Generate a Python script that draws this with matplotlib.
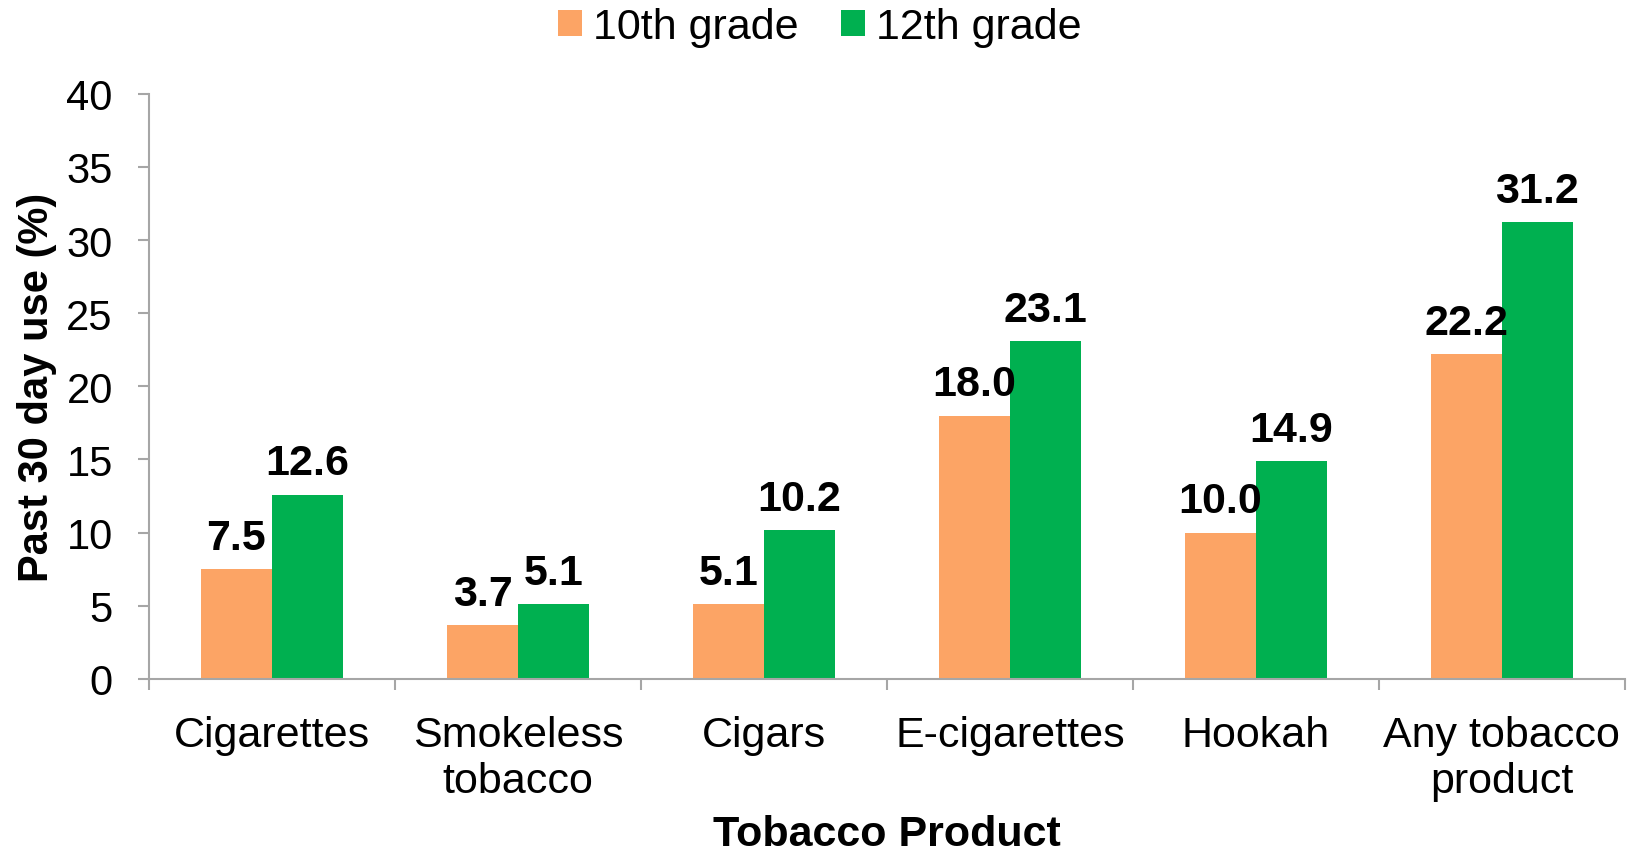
import numpy as np
import matplotlib.pyplot as plt

plt.rcParams['font.family'] = ['Liberation Sans', 'DejaVu Sans']

products = ["Cigarettes", "Smokeless\ntobacco", "Cigars", "E-cigarettes",
            "Hookah", "Any tobacco\nproduct"]
grade10 = [7.5, 3.7, 5.1, 18.0, 10.0, 22.2]
grade12 = [12.6, 5.1, 10.2, 23.1, 14.9, 31.2]

c10 = "#FCA465"
c12 = "#00B050"
gray = "#A6A6A6"

fig = plt.figure(figsize=(16.33, 8.54), dpi=100)
ax = fig.add_axes([0.0912, 0.204, 0.9038, 0.685])

x = np.arange(len(products))
w = 0.288
b1 = ax.bar(x - w/2, grade10, w, color=c10, label="10th grade")
b2 = ax.bar(x + w/2, grade12, w, color=c12, label="12th grade")

for bars in (b1, b2):
    for r in bars:
        h = r.get_height()
        ax.annotate(f"{h:.1f}", (r.get_x() + r.get_width()/2, h),
                    xytext=(0, 8), textcoords="offset points",
                    ha="center", va="bottom", fontsize=31, fontweight="bold")

ax.set_xlim(-0.5, len(products) - 0.5)
ax.set_ylim(0, 40)
ax.set_yticks(range(0, 41, 5))
ax.set_xticks(x)
ax.set_xticklabels(products, fontsize=31, linespacing=1.2)
ax.set_xticks(np.arange(-0.5, len(products), 1), minor=True)
ax.tick_params(axis="x", which="major", length=0, pad=26)
ax.tick_params(axis="x", which="minor", length=8, color=gray, width=1.5)
ax.tick_params(axis="y", labelsize=30, length=8, color=gray, width=1.5, pad=18)

for s in ("top", "right"):
    ax.spines[s].set_visible(False)
for s in ("left", "bottom"):
    ax.spines[s].set_color(gray)
    ax.spines[s].set_linewidth(1.5)

ax.set_ylabel("Past 30 day use (%)", fontsize=30, fontweight="bold", labelpad=7)
ax.set_xlabel("Tobacco Product", fontsize=31, fontweight="bold", labelpad=9)

fig.legend(loc="upper center", bbox_to_anchor=(0.502, 1.036), ncol=2, frameon=False,
           fontsize=31, handlelength=0.55, handleheight=0.55, handletextpad=0.25,
           columnspacing=1.0)

plt.savefig("out.png")
